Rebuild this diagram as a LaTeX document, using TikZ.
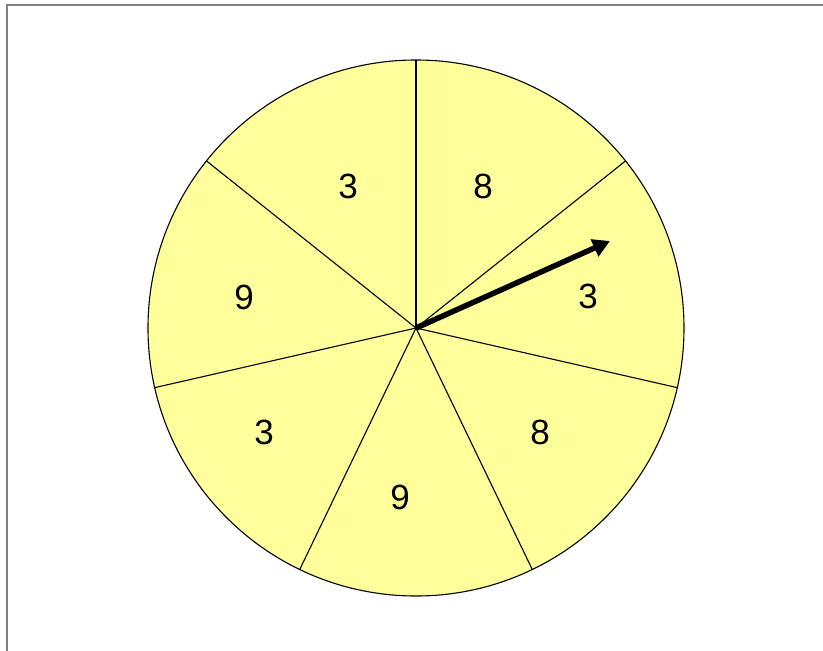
\documentclass[tikz,border=0pt]{standalone}
\usepackage{fontspec}
\setmainfont{Liberation Sans}
\usetikzlibrary{arrows.meta}
\definecolor{spinyellow}{RGB}{255,255,155}
\definecolor{framegray}{RGB}{128,128,128}
\tikzset{
	spoke/.style={draw=black, line width=1.1pt},
	num/.style={font=\fontsize{35}{35}\selectfont},
	pointer/.style={line width=5.5pt, -{Triangle[length=17pt,width=18pt]}}
}
\begin{document}
\begin{tikzpicture}[x=1pt,y=-1pt]
			\useasboundingbox (0,0) rectangle (823,651);
			\draw[framegray, line width=2pt](7,660) -- (7,5) -- (830,5);
			\coordinate (c) at (416,328);
			\draw[spoke, fill=spinyellow](c) circle(268);
			\foreach \a in {90,38.57,-12.86,-64.29,-115.71,-167.14,141.43}
				\draw[spoke](c) -- ++(\a:268 and -268);
			\node[num] (n1) at (483,186) {8};
			\node[num] (n2) at (588,296) {3};
			\node[num] (n3) at (540,432) {8};
			\node[num] (n4) at (400,497) {9};
			\node[num] (n5) at (264,432) {3};
			\node[num] (n6) at (244,297) {9};
			\node[num] (n7) at (348,186) {3};
			\coordinate (tip) at (610,241);
			\draw[pointer](c) -- (tip);
		\end{tikzpicture}
\end{document}
